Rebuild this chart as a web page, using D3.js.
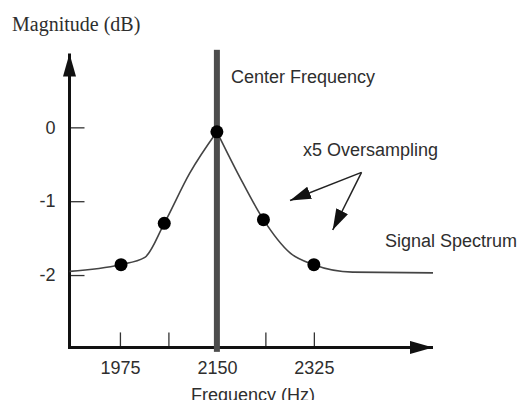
<!DOCTYPE html>
<html>
<head>
<meta charset="utf-8">
<script src="https://cdn.jsdelivr.net/npm/d3@7"></script>
<style>
  body { margin: 0; background: #fff; }
  svg { display: block; }
</style>
</head>
<body>
<div id="chart"></div>
<script>
// tick positions (Hz / dB)
const xTicks = [1975, 2062.5, 2150, 2237.5, 2325];
const xTickLabels = ["1975", "", "2150", "", "2325"];
const yTicks = [0, -1, -2];
const centerFrequency = 2150;

// signal spectrum curve
const spectrumFreq = [1884, 1975, 2020, 2055, 2101, 2150, 2191, 2234, 2282, 2325, 2395, 2540];
const spectrumDb = [-1.95, -1.86, -1.76, -1.3, -0.62, -0.06, -0.67, -1.25, -1.7, -1.86, -1.96, -1.97];

// x5 oversampling sample points
const sampleFreq = [1977, 2055, 2150, 2234, 2325];
const sampleDb = [-1.86, -1.3, -0.06, -1.25, -1.86];

// annotation arrows (from label towards the curve)
const arrowFrom = [2411, -0.61];
const arrowTips = [[2282, -0.99], [2359, -1.39]];

function renderChart() {
  const width = 518;
  const height = 400;
  const sans = "'Liberation Sans', Arial, sans-serif";
  const serif = "'Liberation Serif', 'Times New Roman', serif";
  const ink = "#2e2e2e";

  const svg = d3
    .select("#chart")
    .append("svg")
    .attr("width", width)
    .attr("height", height);

  const x = d3.scaleLinear().domain([1884, 2540]).range([69.5, 433]);
  const y = d3.scaleLinear().domain([1, -3]).range([53.5, 348.9]);

  const defs = svg.append("defs");
  const marker = (id, len, half) =>
    defs
      .append("marker")
      .attr("id", id)
      .attr("markerUnits", "userSpaceOnUse")
      .attr("viewBox", `0 ${-half} ${len} ${half * 2}`)
      .attr("refX", len)
      .attr("refY", 0)
      .attr("markerWidth", len)
      .attr("markerHeight", half * 2)
      .attr("orient", "auto")
      .append("path")
      .attr("d", `M0,${-half}L${len},0L0,${half}Z`)
      .attr("fill", "#111");
  marker("axisHead", 23, 6.5);
  marker("noteHead", 21, 6.5);

  // y axis ticks + labels
  const yAxis = svg
    .append("g")
    .attr("transform", `translate(${x(1884)},0)`)
    .call(
      d3.axisLeft(y).tickValues(yTicks).tickSize(-15).tickPadding(14).tickFormat((d) => String(d))
    );
  yAxis.select(".domain").remove();

  // x axis ticks + labels
  const xAxis = svg
    .append("g")
    .attr("transform", `translate(0,${y(-2.98)})`)
    .call(
      d3
        .axisBottom(x)
        .tickValues(xTicks)
        .tickSize(-15)
        .tickPadding(14)
        .tickFormat((d, i) => xTickLabels[i])
    );
  xAxis.select(".domain").remove();

  svg.selectAll(".tick line").attr("stroke", "#333").attr("stroke-width", 1.3);
  svg
    .selectAll(".tick text")
    .attr("fill", ink)
    .style("font-family", sans)
    .style("font-size", "18px");

  // axis lines with arrow heads
  svg
    .append("line")
    .attr("x1", x(1884))
    .attr("x2", x(1884))
    .attr("y1", y(-2.98) + 1.5)
    .attr("y2", y(1))
    .attr("stroke", "#111")
    .attr("stroke-width", 3)
    .attr("marker-end", "url(#axisHead)");
  svg
    .append("line")
    .attr("x1", x(1884) - 1.5)
    .attr("x2", x(2540))
    .attr("y1", y(-2.98))
    .attr("y2", y(-2.98))
    .attr("stroke", "#111")
    .attr("stroke-width", 3)
    .attr("marker-end", "url(#axisHead)");

  // center frequency bar
  svg
    .append("rect")
    .attr("x", x(centerFrequency) - 3)
    .attr("width", 6)
    .attr("y", y(1.05))
    .attr("height", y(-3.04) - y(1.05))
    .attr("fill", "#4d4d4d");

  // spectrum curve, drawn as two branches so the peak stays sharp
  const pts = spectrumFreq.map((f, i) => [f, spectrumDb[i]]);
  const peak = spectrumDb.indexOf(d3.max(spectrumDb));
  const line = d3
    .line()
    .x((d) => x(d[0]))
    .y((d) => y(d[1]))
    .curve(d3.curveMonotoneX);

  svg
    .selectAll(".branch")
    .data([pts.slice(0, peak + 1), pts.slice(peak)])
    .enter()
    .append("path")
    .attr("class", "branch")
    .attr("d", line)
    .attr("fill", "none")
    .attr("stroke", "#444")
    .attr("stroke-width", 1.6);

  // oversampling points
  svg
    .selectAll(".sample")
    .data(sampleFreq.map((f, i) => [f, sampleDb[i]]))
    .enter()
    .append("circle")
    .attr("class", "sample")
    .attr("cx", (d) => x(d[0]))
    .attr("cy", (d) => y(d[1]))
    .attr("r", 6.5)
    .attr("fill", "#000");

  // annotation arrows
  svg
    .selectAll(".note-arrow")
    .data(arrowTips)
    .enter()
    .append("line")
    .attr("class", "note-arrow")
    .attr("x1", x(arrowFrom[0]))
    .attr("y1", y(arrowFrom[1]))
    .attr("x2", (d) => x(d[0]))
    .attr("y2", (d) => y(d[1]))
    .attr("stroke", "#222")
    .attr("stroke-width", 1.5)
    .attr("marker-end", "url(#noteHead)");

  // labels
  const label = (txt, lx, ly, font, size, anchor) =>
    svg
      .append("text")
      .attr("x", lx)
      .attr("y", ly)
      .attr("text-anchor", anchor || "start")
      .attr("fill", ink)
      .style("font-family", font)
      .style("font-size", size + "px")
      .text(txt);

  label("Magnitude (dB)", 12, 31, serif, 20);
  label("Center Frequency", 231, 83, sans, 18);
  label("x5 Oversampling", 303, 156, sans, 18);
  label("Signal Spectrum", 385, 247, sans, 18);
  label("Frequency (Hz)", 253, 401, sans, 18, "middle");
}

renderChart();
</script>
</body>
</html>
